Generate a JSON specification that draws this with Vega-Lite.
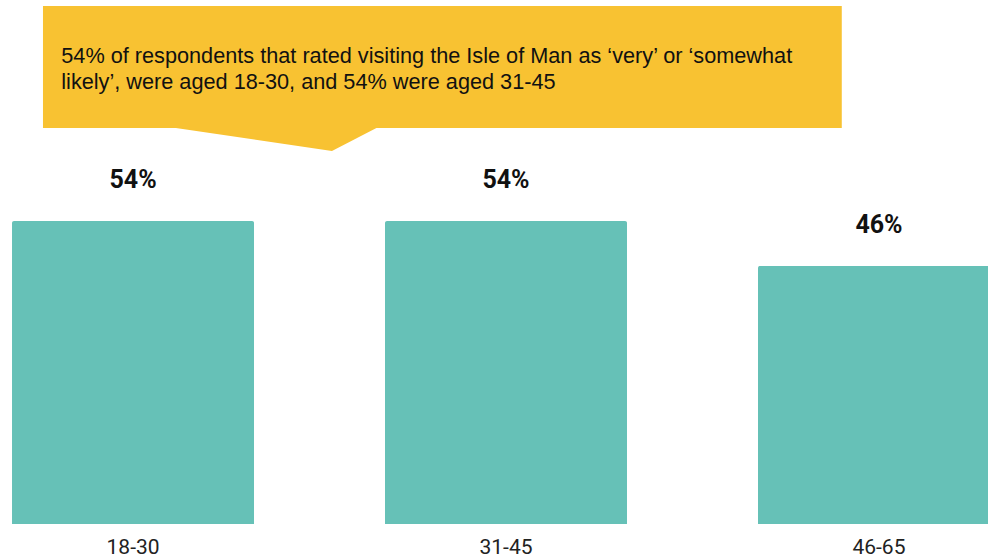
{
  "$schema": "https://vega.github.io/schema/vega-lite/v6.json",
  "width": 988,
  "height": 524,
  "padding": {"left": 0, "top": 0, "right": 0, "bottom": 35},
  "autosize": "none",
  "background": "white",
  "config": {"view": {"stroke": null}},
  "datasets": {
    "bars": [
      {"age": "18-30", "share": 0.54},
      {"age": "31-45", "share": 0.54},
      {"age": "46-65", "share": 0.46}
    ],
    "box": [{"left": 4.35, "right": 85.2, "top": 0.9233, "bottom": 0.7059}],
    "pointer": [
      {"pos": 17.8, "edge": 0.7059, "base": 0.712},
      {"pos": 33.6, "edge": 0.6649, "base": 0.712},
      {"pos": 38.1, "edge": 0.7059, "base": 0.712}
    ],
    "note": [{"pos": 6.2, "level": 0.822, "text": "54% of respondents that rated visiting the Isle of Man as ‘very’ or ‘somewhat\nlikely’, were aged 18-30, and 54% were aged 31-45"}]
  },
  "layer": [
    {
      "data": {"name": "bars"},
      "encoding": {
        "x": {
          "field": "age", "type": "nominal", "sort": null,
          "scale": {"range": [0, 1012], "paddingInner": 0.351, "paddingOuter": 0.0322},
          "axis": {"title": null, "domain": false, "ticks": false, "tickSize": 0, "labelAngle": 0, "labelPadding": 29, "labelBaseline": "alphabetic", "labelFont": "Roboto", "labelFontSize": 21, "labelColor": "#222222", "labelFontWeight": "normal"}
        },
        "y": {"field": "share", "type": "quantitative", "scale": {"domain": [0, 0.934], "nice": false, "zero": true}, "axis": null}
      },
      "layer": [
        {"mark": {"type": "bar", "color": "#66c1b7", "cornerRadiusTopLeft": 2, "cornerRadiusTopRight": 2}},
        {"mark": {"type": "text", "font": "Roboto", "fontWeight": "bold", "fontSize": 25, "color": "#111111", "baseline": "alphabetic", "align": "center", "dy": -33},
         "encoding": {"text": {"field": "share", "type": "quantitative", "format": ".0%"}}}
      ]
    },
    {
      "layer": [
        {
          "data": {"name": "box"},
          "mark": {"type": "rect", "color": "#f8c232"},
          "encoding": {
            "x": {"field": "left", "type": "quantitative", "scale": {"domain": [0, 100], "nice": false, "zero": false}, "axis": null},
            "x2": {"field": "right"},
            "y": {"field": "top", "type": "quantitative"},
            "y2": {"field": "bottom"}
          }
        },
        {
          "data": {"name": "pointer"},
          "mark": {"type": "area", "color": "#f8c232", "opacity": 1},
          "encoding": {
            "x": {"field": "pos", "type": "quantitative", "axis": null},
            "y": {"field": "edge", "type": "quantitative"},
            "y2": {"field": "base"}
          }
        },
        {
          "data": {"name": "note"},
          "mark": {"type": "text", "font": "Liberation Sans", "fontSize": 21.7, "color": "#111111", "align": "left", "baseline": "alphabetic", "lineBreak": "\n", "lineHeight": 26.5},
          "encoding": {
            "x": {"field": "pos", "type": "quantitative", "axis": null},
            "y": {"field": "level", "type": "quantitative"},
            "text": {"field": "text", "type": "nominal"}
          }
        }
      ]
    }
  ],
  "resolve": {"scale": {"x": "independent"}}
}
